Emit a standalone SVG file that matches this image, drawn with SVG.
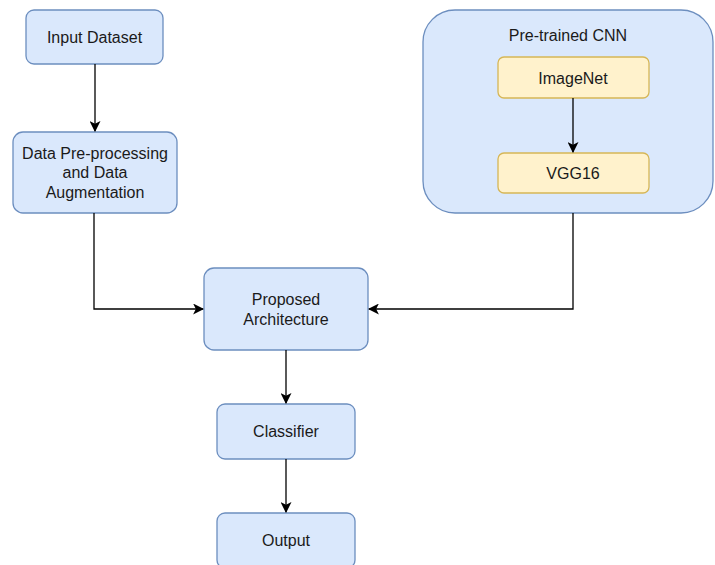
<svg xmlns="http://www.w3.org/2000/svg" width="715" height="565" viewBox="0 0 715 565">
<style>
.b{fill:#dae8fc;stroke:#6c8ebf;stroke-width:1.3}
.y{fill:#fff2cc;stroke:#d6b656;stroke-width:1.3}
.t{font-family:"Liberation Sans",Arial,sans-serif;font-size:16px;fill:#1a1a1a;text-anchor:middle;dominant-baseline:central}
.c{fill:none;stroke:#000;stroke-width:1.3}
</style>
<defs>
<marker id="a" viewBox="0 0 10 10" refX="9" refY="5" markerWidth="11" markerHeight="11" markerUnits="userSpaceOnUse" orient="auto">
<path d="M0,0 L10,5 L0,10 L2.5,5 Z" fill="#000"/>
</marker>
</defs>
<rect width="715" height="565" fill="#fff"/>
<g id="cnn">
<rect class="b" x="423" y="10" width="290" height="203" rx="32"/>
<text class="t" x="568" y="35">Pre-trained CNN</text>
</g>
<g id="imagenet">
<rect class="y" x="498" y="57" width="151" height="41" rx="6"/>
<text class="t" x="573" y="78">ImageNet</text>
</g>
<g id="vgg">
<rect class="y" x="498" y="153" width="151" height="40" rx="6"/>
<text class="t" x="573" y="173">VGG16</text>
</g>
<g id="input">
<rect class="b" x="26" y="10" width="137" height="54" rx="8"/>
<text class="t" x="94.5" y="37">Input Dataset</text>
</g>
<g id="prep">
<rect class="b" x="13" y="132" width="164" height="81" rx="10"/>
<text class="t" x="95" y="153">Data Pre-processing</text>
<text class="t" x="95" y="172">and Data</text>
<text class="t" x="95" y="192">Augmentation</text>
</g>
<g id="proposed">
<rect class="b" x="204" y="268" width="164" height="82" rx="10"/>
<text class="t" x="286" y="299">Proposed</text>
<text class="t" x="286" y="319">Architecture</text>
</g>
<g id="classifier">
<rect class="b" x="217" y="404" width="138" height="55" rx="8"/>
<text class="t" x="286" y="431">Classifier</text>
</g>
<g id="output">
<rect class="b" x="217" y="513" width="138" height="55" rx="8"/>
<text class="t" x="286" y="540">Output</text>
</g>
<g id="connectors">
<path class="c" d="M95,64 V131" marker-end="url(#a)"/>
<path class="c" d="M573,98 V152" marker-end="url(#a)"/>
<path class="c" d="M94,213 V309 H203" marker-end="url(#a)"/>
<path class="c" d="M573,213 V309 H369" marker-end="url(#a)"/>
<path class="c" d="M286,350 V403" marker-end="url(#a)"/>
<path class="c" d="M286,459 V512" marker-end="url(#a)"/>
</g>
</svg>
